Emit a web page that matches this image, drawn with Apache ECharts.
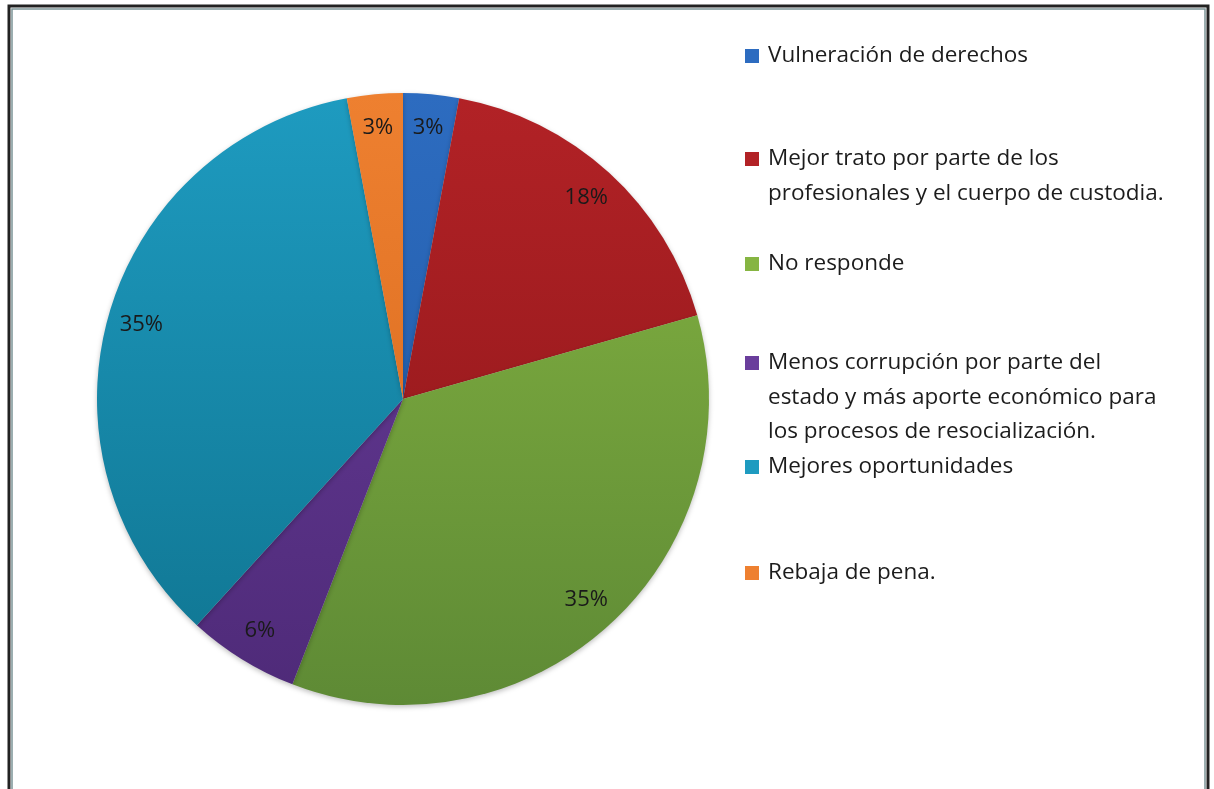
<!DOCTYPE html>
<html>
<head>
<meta charset="utf-8">
<script src="https://cdn.jsdelivr.net/npm/echarts@6/dist/echarts.min.js"></script>
<style>
  html, body { margin: 0; padding: 0; background: #fff; }
  #chart { width: 1214px; height: 789px; }
</style>
</head>
<body>
<div id="chart"></div>
<script>
// categories and answer counts (34 respondents -> 3%, 18%, 35%, 6%, 35%, 3%)
var categories = [
    "Vulneración de derechos",
    "Mejor trato por parte de los profesionales y el cuerpo de custodia.",
    "No responde",
    "Menos corrupción por parte del estado y más aporte económico para los procesos de resocialización.",
    "Mejores oportunidades",
    "Rebaja de pena."
];
var legendLines = [
    ["Vulneración de derechos"],
    ["Mejor trato por parte de los", "profesionales y el cuerpo de custodia."],
    ["No responde"],
    ["Menos corrupción por parte del", "estado y más aporte económico para", "los procesos de resocialización."],
    ["Mejores oportunidades"],
    ["Rebaja de pena."]
];
var counts = [1, 6, 12, 2, 12, 1];

var topColors = ["#2D6CC0", "#B22226", "#86B542", "#6A3E9C", "#1E9BC0", "#EE8030"];
var bottomColors = ["#1E56A0", "#8A1518", "#5E8A35", "#4E2A78", "#0F7490", "#D4661A"];

var cx = 403, cy = 399, R = 306;
var lineH = 34.5;
var legendY = [56, 159, 264, 363, 467, 573];

function grad(i) {
    return new echarts.graphic.LinearGradient(0, cy - R, 0, cy + R, [
        { offset: 0, color: topColors[i] },
        { offset: 1, color: bottomColors[i] }
    ], true);
}

var pieData = [], labelData = [];
for (var i = 0; i < categories.length; i++) {
    pieData.push({ name: categories[i], value: counts[i], itemStyle: { color: grad(i) } });
    labelData.push({ name: categories[i], value: counts[i] });
}

// one legend per item so each can sit where the original puts it
var legends = [];
for (var i = 0; i < categories.length; i++) {
    var n = legendLines[i].length;
    var pad = [];
    for (var k = 1; k < n; k++) pad.push("");
    var txt = pad.concat(legendLines[i]).join("\n");
    var h = (2 * n - 1) * lineH;
    legends.push({
        data: [{ name: categories[i], itemStyle: { color: topColors[i] } }],
        left: 745,
        top: legendY[i] - h / 2,
        padding: 0,
        icon: "rect",
        itemWidth: 14,
        itemHeight: 14,
        selectedMode: false,
        formatter: (function (t) { return function () { return t; }; })(txt),
        textStyle: {
            fontFamily: "Open Sans",
            fontSize: 22.5,
            color: "#1c1c1c",
            lineHeight: lineH,
            padding: [0, 0, 0, 4]
        }
    });
}

var option = {
    backgroundColor: "#fff",
    animation: false,
    legend: legends,
    graphic: [
        {
            type: "rect",
            shape: { x: 9, y: 6, width: 1199, height: 800 },
            style: { fill: "none", stroke: "#222", lineWidth: 3 },
            silent: true
        },
        {
            type: "rect",
            shape: { x: 12, y: 9, width: 1193, height: 800 },
            style: { fill: "none", stroke: "#7c9496", lineWidth: 1.5 },
            silent: true
        }
    ],
    series: [
        {
            name: "respuestas",
            type: "pie",
            center: [cx, cy],
            radius: [0, R],
            startAngle: 90,
            clockwise: true,
            silent: true,
            label: { show: false },
            labelLine: { show: false },
            itemStyle: {
                borderWidth: 0,
                shadowBlur: 5,
                shadowColor: "rgba(0,0,0,0.25)",
                shadowOffsetY: 2
            },
            data: pieData
        },
        {
            // transparent ring only used to place the percentage labels
            name: "etiquetas",
            type: "pie",
            center: [cx, cy],
            radius: [R - 70, R - 4],
            startAngle: 90,
            clockwise: true,
            silent: true,
            percentPrecision: 0,
            itemStyle: { color: "rgba(0,0,0,0)" },
            label: {
                show: true,
                position: "inside",
                formatter: "{d}%",
                fontFamily: "Open Sans",
                fontSize: 22,
                color: "#1a1a1a"
            },
            labelLine: { show: false },
            data: labelData
        }
    ]
};

var myChart = echarts.init(document.getElementById("chart"));
myChart.setOption(option);
</script>
</body>
</html>
